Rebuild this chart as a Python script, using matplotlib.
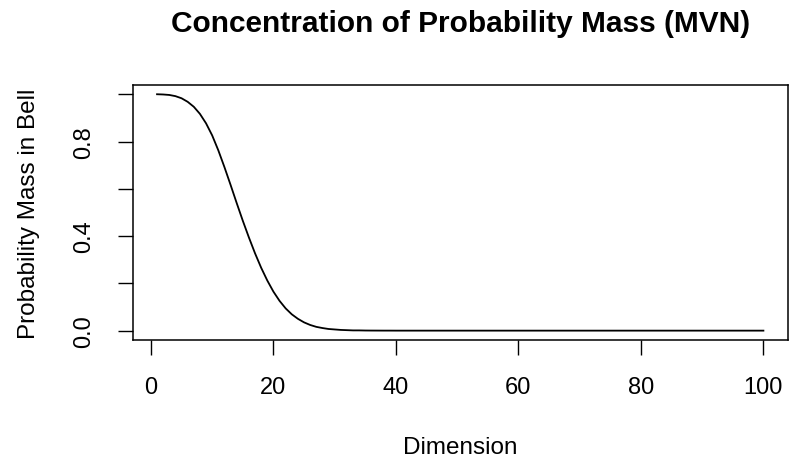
import numpy as np
import matplotlib
matplotlib.use('Agg')
import matplotlib.pyplot as plt

# Share of probability mass inside the bell, by dimension
dimension = np.arange(1, 101)
mass_head = [1.000, 0.999, 0.997, 0.992, 0.983, 0.968, 0.947, 0.917, 0.877, 0.826,
             0.763, 0.692, 0.617, 0.540, 0.465, 0.394, 0.327, 0.266, 0.212, 0.165,
             0.126, 0.094, 0.069, 0.050, 0.035, 0.024, 0.016, 0.011, 0.007, 0.005,
             0.003, 0.002, 0.001, 0.001, 0.0005, 0.0003, 0.0002, 0.0001, 0.0001, 0.0]
mass_tail = [0.0] * 60
prob_mass = np.array(mass_head + mass_tail)

x_ticks = [0, 20, 40, 60, 80, 100]
y_ticks = [0.0, 0.2, 0.4, 0.6, 0.8, 1.0]
y_labels = ['0.0', '', '0.4', '', '0.8', '']

plt.rcParams['font.family'] = ['Liberation Sans', 'DejaVu Sans']

fig = plt.figure(figsize=(7.89, 4.60), dpi=100)
ax = fig.add_axes([0.1683, 0.2585, 0.8300, 0.5550])

ax.plot(dimension, prob_mass, color='black', linewidth=1.3)

# R-style 4% padding on both axes
ax.set_xlim(1 - 0.04 * 99, 100 + 0.04 * 99)
ax.set_ylim(-0.04, 1.04)

ax.set_xticks(x_ticks)
ax.set_xticklabels([str(t) for t in x_ticks])
ax.set_yticks(y_ticks)
ax.set_yticklabels(y_labels, rotation=90, va='center')

ax.tick_params(axis='both', direction='out', length=11, width=1.0,
               labelsize=17, color='black')
ax.tick_params(axis='x', pad=15)
ax.tick_params(axis='y', pad=16)

for s in ax.spines.values():
    s.set_linewidth(1.1)

ax.set_title('Concentration of Probability Mass (MVN)', fontsize=21.5,
             fontweight='bold', pad=38.5)
ax.set_xlabel('Dimension', fontsize=17.5, labelpad=27.5)
ax.set_ylabel('Probability Mass in Bell', fontsize=17.5, labelpad=24)

fig.savefig('out.png', dpi=100)
